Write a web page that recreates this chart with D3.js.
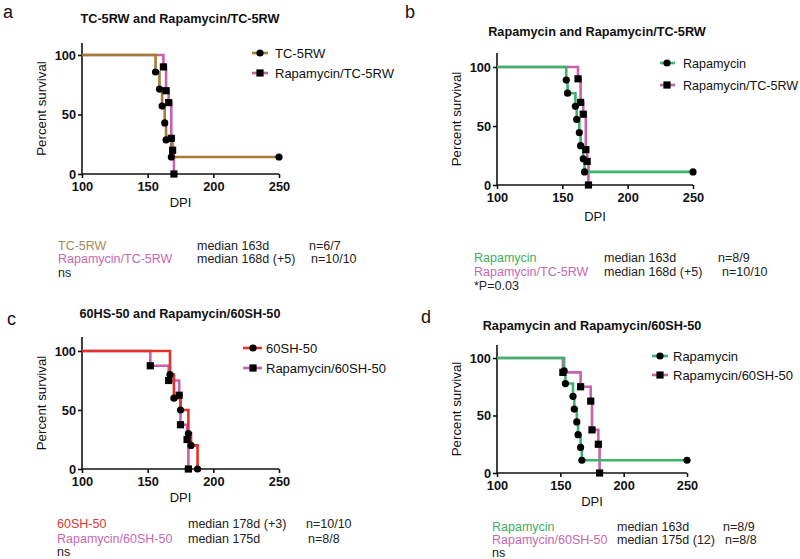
<!DOCTYPE html>
<html><head><meta charset="utf-8">
<script src="https://cdn.jsdelivr.net/npm/d3@7"></script>
<style>body{margin:0;background:#fff}svg{display:block}text{font-family:"Liberation Sans",Arial,sans-serif}</style>
</head><body><svg id="c" width="800" height="559"></svg>
<script>
// ---- data ----
const xTicks = [100, 150, 200, 250];
const yTicks = [0, 50, 100];
const tc5rwDays = [156, 159, 161, 163, 164, 168];
const tc5rwSurv = [85.7, 71.4, 57.1, 42.9, 28.6, 14.3];
const tc5rwCensor = 250;
const rapaTc5rwDays = [162, 164, 166, 168, 169, 170];
const rapaTc5rwSurv = [90, 70, 60, 30, 20, 0];
const rapaDays = [153, 154, 160, 161, 163, 164, 166, 167];
const rapaSurv = [88.9, 77.8, 66.7, 55.6, 44.4, 33.3, 22.2, 11.1];
const rapaCensor = 250;
const sh50Days = [167, 170, 175, 181, 183, 188];
const sh50Surv = [80, 60, 50, 30, 20, 0];
const rapaSh50Days = [152, 166, 174, 175, 180, 181];
const rapaSh50Surv = [87.5, 75, 62.5, 37.5, 25, 0];

const titles = ["TC-5RW and Rapamycin/TC-5RW", "Rapamycin and Rapamycin/TC-5RW",
  "60HS-50 and Rapamycin/60SH-50", "Rapamycin and Rapamycin/60SH-50"];
const letters = ["a", "b", "c", "d"];
const names = {tc: "TC-5RW", rtc: "Rapamycin/TC-5RW", rapa: "Rapamycin", sh: "60SH-50", rsh: "Rapamycin/60SH-50"};
const statsA = [["TC-5RW", "median 163d", "n=6/7"], ["Rapamycin/TC-5RW", "median 168d (+5)", "n=10/10"], ["ns"]];
const statsB = [["Rapamycin", "median 163d", "n=8/9"], ["Rapamycin/TC-5RW", "median 168d (+5)", "n=10/10"], ["*P=0.03"]];
const statsC = [["60SH-50", "median 178d (+3)", "n=10/10"], ["Rapamycin/60SH-50", "median 175d", "n=8/8"], ["ns"]];
const statsD = [["Rapamycin", "median 163d", "n=8/9"], ["Rapamycin/60SH-50", "median 175d (12)", "n=8/8"], ["ns"]];

// ---- styles ----
const COL = {tc: "#A47A34", rtc: "#C862B0", rapa: "#3BB56A", sh: "#E53228", rsh: "#C862B0"};
const TXT = {tc: "#A88A58", rtc: "#C868B2", rapa: "#3EAE62", sh: "#E0382E", rsh: "#C868B2"};

const series = {
  tc: {days: tc5rwDays, surv: tc5rwSurv, censor: tc5rwCensor, shape: "circle"},
  rtc: {days: rapaTc5rwDays, surv: rapaTc5rwSurv, censor: null, shape: "square"},
  rapa: {days: rapaDays, surv: rapaSurv, censor: rapaCensor, shape: "circle"},
  sh: {days: sh50Days, surv: sh50Surv, censor: null, shape: "circle"},
  rsh: {days: rapaSh50Days, surv: rapaSh50Surv, censor: null, shape: "square"}
};

const panels = [
  {x0: 82, x1: 279, y100: 55, y0: 174, top: 43, keys: ["tc", "rtc"], title: [180, 22.5], letter: [3, 18],
   leg: {lx: 252, lx2: 268, mx: 260, tx: 275, y: [53, 73], fs: 13}, stats: statsA, sx: [58, 197, [309, 311]], sy: [250, 263, 277], dpiY: 207},
  {x0: 497, x1: 693, y100: 67, y0: 185, top: 53, keys: ["rapa", "rtc"], title: [597, 36], letter: [405, 18],
   leg: {lx: 660, lx2: 675, mx: 667, tx: 683, y: [63, 85], fs: 12.6}, stats: statsB, sx: [474, 604, [718, 722]], sy: [262, 275.5, 290], dpiY: 221},
  {x0: 82, x1: 279, y100: 351, y0: 469, top: 337, keys: ["sh", "rsh"], title: [180, 318], letter: [7, 325],
   leg: {lx: 243, lx2: 262, mx: 253, tx: 266, y: [348, 368], fs: 13}, stats: statsC, sx: [57, 188, [306, 308]], sy: [528, 543, 556], dpiY: 502},
  {x0: 497, x1: 687, y100: 358, y0: 473, top: 345, keys: ["rapa", "rsh"], title: [592, 329.5], letter: [421, 323],
   leg: {lx: 652, lx2: 668, mx: 660, tx: 673, y: [356, 375], fs: 13}, stats: statsD, sx: [492, 617, [723, 725]], sy: [530.5, 543.5, 557], dpiY: 506}
];

const svg = d3.select("#c");

function marker(g, shape, x, y) {
  if (shape === "circle") g.append("circle").attr("cx", x).attr("cy", y).attr("r", 3.6).attr("fill", "#000");
  else g.append("rect").attr("x", x - 3.6).attr("y", y - 3.6).attr("width", 7.2).attr("height", 7.2).attr("fill", "#000");
}

panels.forEach((p, i) => {
  const g = svg.append("g");
  const x = d3.scaleLinear().domain([100, 250]).range([p.x0, p.x1]);
  const y = d3.scaleLinear().domain([0, 100]).range([p.y0, p.y100]);

  // letter & title
  g.append("text").attr("x", p.letter[0]).attr("y", p.letter[1]).attr("font-size", 18).attr("fill", "#111").text(letters[i]);
  g.append("text").attr("x", p.title[0]).attr("y", p.title[1]).attr("text-anchor", "middle")
    .attr("font-size", 12.7).attr("font-weight", "bold").attr("fill", "#111").text(titles[i]);

  // axes
  const ax = g.append("g").attr("transform", `translate(0,${p.y0})`)
    .call(d3.axisBottom(x).tickValues(xTicks).tickSize(4).tickSizeOuter(0).tickPadding(4));
  const ay = g.append("g").attr("transform", `translate(${p.x0},0)`)
    .call(d3.axisLeft(y).tickValues(yTicks).tickSize(4).tickSizeOuter(0).tickPadding(2));
  [ax, ay].forEach(a => {
    a.selectAll("path,line").attr("stroke", "#111").attr("stroke-width", 1.6);
    a.selectAll("text").attr("font-size", 12.8).attr("font-weight", "bold").attr("fill", "#111")
      .attr("font-family", '"Liberation Sans",Arial,sans-serif');
  });
  ay.select("path.domain").attr("d", `M0,${p.y0}V${p.top}`);
  ax.select("path.domain").attr("d", `M${p.x0},0H${p.x1}`);

  g.append("text").attr("x", (p.x0 + p.x1) / 2).attr("y", p.dpiY).attr("text-anchor", "middle")
    .attr("font-size", 13).attr("fill", "#111").text("DPI");
  g.append("text").attr("transform", `translate(${p.x0 - 36},${(p.top + p.y0) / 2}) rotate(-90)`)
    .attr("text-anchor", "middle").attr("font-size", 13.3).attr("fill", "#111").text("Percent survival");

  // step lines: second series below, first on top
  const line = d3.line().x(d => x(d[0])).y(d => y(d[1])).curve(d3.curveStepAfter);
  [...p.keys].reverse().forEach(k => {
    const s = series[k];
    const pts = [[100, 100]].concat(s.days.map((d, j) => [d, s.surv[j]]));
    if (s.censor) pts.push([s.censor, s.surv[s.surv.length - 1]]);
    g.append("path").attr("d", line(pts)).attr("fill", "none").attr("stroke", COL[k]).attr("stroke-width", 2.6);
  });
  [...p.keys].reverse().forEach(k => {
    const s = series[k];
    s.days.forEach((d, j) => marker(g, s.shape, x(d), y(s.surv[j])));
    if (s.censor) marker(g, s.shape, x(s.censor), y(s.surv[s.surv.length - 1]));
  });

  // legend
  p.keys.forEach((k, j) => {
    const ly = p.leg.y[j];
    g.append("line").attr("x1", p.leg.lx).attr("x2", p.leg.lx2).attr("y1", ly).attr("y2", ly)
      .attr("stroke", COL[k]).attr("stroke-width", 2.6);
    marker(g, series[k].shape, p.leg.mx, ly);
    g.append("text").attr("x", p.leg.tx).attr("y", ly + 4.5).attr("font-size", p.leg.fs).attr("fill", "#111").text(names[k]);
  });

  // stats text
  p.stats.forEach((row, r) => {
    const yy = p.sy[r];
    if (row.length === 1) {
      g.append("text").attr("x", p.sx[0]).attr("y", yy).attr("font-size", 12.5).attr("fill", "#222").text(row[0]);
      return;
    }
    g.append("text").attr("x", p.sx[0]).attr("y", yy).attr("font-size", 12.5).attr("fill", TXT[p.keys[r]]).text(row[0]);
    g.append("text").attr("x", p.sx[1]).attr("y", yy).attr("font-size", 12.5).attr("fill", "#222").text(row[1]);
    g.append("text").attr("x", p.sx[2][r]).attr("y", yy).attr("font-size", 12.5).attr("fill", "#222").text(row[2]);
  });
});
</script></body></html>
